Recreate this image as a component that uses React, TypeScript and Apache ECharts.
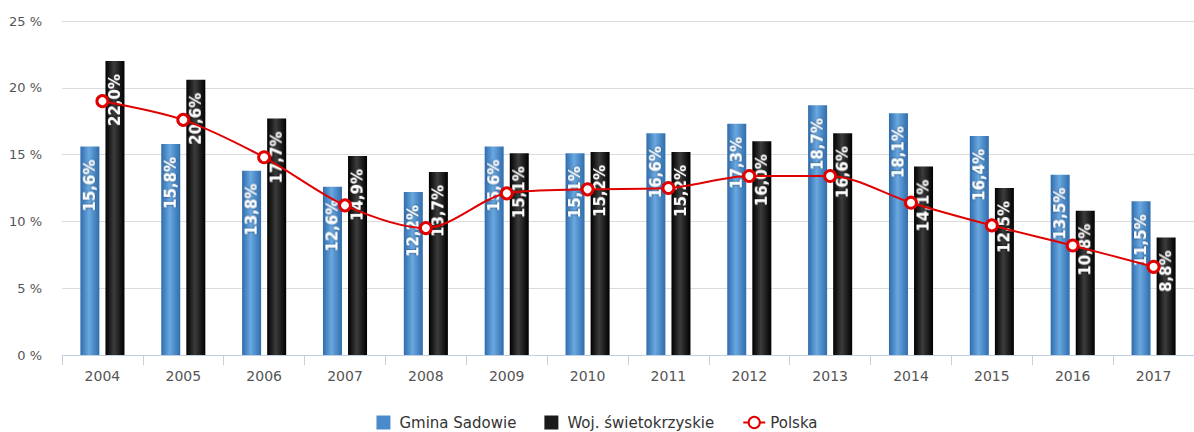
import React, { useEffect, useRef } from "react";
import * as echarts from "echarts";

const years = ["2004", "2005", "2006", "2007", "2008", "2009", "2010", "2011", "2012", "2013", "2014", "2015", "2016", "2017"];
const gmina = [15.6, 15.8, 13.8, 12.6, 12.2, 15.6, 15.1, 16.6, 17.3, 18.7, 18.1, 16.4, 13.5, 11.5];
const woj = [22.0, 20.6, 17.7, 14.9, 13.7, 15.1, 15.2, 15.2, 16.0, 16.6, 14.1, 12.5, 10.8, 8.8];
const polska = [19.0, 17.6, 14.8, 11.2, 9.5, 12.1, 12.4, 12.5, 13.4, 13.4, 11.4, 9.7, 8.2, 6.6];

const fmt = (v: number) => v.toFixed(1).replace(".", ",") + "%";
const FONT = "DejaVu Sans";

const barLabel = {
  show: true,
  position: "insideTop" as const,
  distance: 13,
  rotate: 90,
  align: "right" as const,
  verticalAlign: "middle" as const,
  color: "#fff",
  fontWeight: "bold" as const,
  fontSize: 15,
  fontFamily: FONT,
  textShadowColor: "rgba(0,0,0,0.6)",
  textShadowBlur: 2,
  formatter: (p: any) => fmt(p.value),
};

export default function App() {
  const ref = useRef<HTMLDivElement>(null);
  useEffect(() => {
    if (!ref.current) return;
    const chart = echarts.init(ref.current, null, { renderer: "svg" });
    const blue = new echarts.graphic.LinearGradient(0, 0, 1, 0, [
      { offset: 0, color: "#2f6cad" },
      { offset: 0.45, color: "#6aa8e0" },
      { offset: 1, color: "#2f6cad" },
    ]);
    const black = new echarts.graphic.LinearGradient(0, 0, 1, 0, [
      { offset: 0, color: "#000000" },
      { offset: 0.45, color: "#3c3c3c" },
      { offset: 1, color: "#000000" },
    ]);
    const square = "path://M0,0L10,0L10,10L0,10Z";
    chart.setOption({
      animation: false,
      textStyle: { fontFamily: FONT },
      grid: { left: 62, right: -9, top: 21, bottom: 77, containLabel: false },
      legend: {
        bottom: -3,
        left: "center",
        itemWidth: 22,
        itemHeight: 14,
        itemGap: 28,
        symbolKeepAspect: true,
        textStyle: { fontSize: 15, color: "#333", fontFamily: FONT },
        data: [
          { name: "Gmina Sadowie", icon: square, itemStyle: { color: "#4a8ccb" } },
          { name: "Woj. świetokrzyskie", icon: square, itemStyle: { color: "#1a1a1a" } },
          { name: "Polska" },
        ],
      },
      xAxis: {
        type: "category",
        data: years,
        axisLine: { lineStyle: { color: "#c0d0e0", width: 1 } },
        axisTick: { show: true, length: 10, lineStyle: { color: "#c0d0e0" } },
        axisLabel: { color: "#555", fontSize: 14, margin: 14, fontFamily: FONT },
      },
      yAxis: {
        type: "value",
        min: 0,
        max: 25,
        interval: 5,
        axisLabel: { formatter: "{value} %", color: "#555", fontSize: 13, margin: 20, fontFamily: FONT },
        splitLine: { lineStyle: { color: "#dcdcdc" } },
        axisLine: { show: false },
        axisTick: { show: false },
      },
      series: [
        {
          name: "Gmina Sadowie",
          type: "bar",
          data: gmina,
          barWidth: 19,
          barGap: "32%",
          itemStyle: { color: blue },
          label: barLabel,
        },
        {
          name: "Woj. świetokrzyskie",
          type: "bar",
          data: woj,
          barWidth: 19,
          itemStyle: { color: black },
          label: barLabel,
        },
        {
          name: "Polska",
          type: "line",
          data: polska,
          smooth: 0.3,
          symbol: "circle",
          symbolSize: 11,
          z: 5,
          lineStyle: { color: "#e00000", width: 2 },
          itemStyle: { color: "#ffffff", borderColor: "#e00000", borderWidth: 3 },
        },
      ],
    });
    return () => chart.dispose();
  }, []);
  return (
    <div
      ref={ref}
      style={{ position: "fixed", left: 0, top: 0, width: 1194, height: 432, background: "#fff" }}
    />
  );
}
